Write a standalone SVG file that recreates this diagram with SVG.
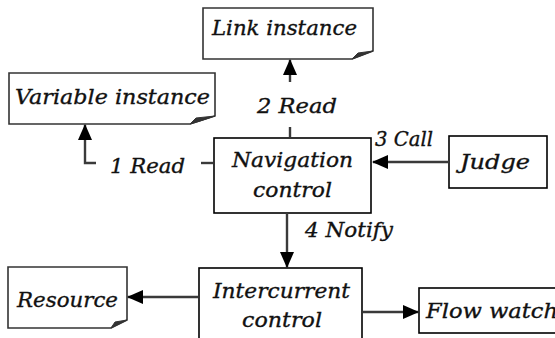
<svg xmlns="http://www.w3.org/2000/svg" width="555" height="338" viewBox="0 0 555 338">
<style>
  .doc { fill: #fff; stroke: #333; stroke-width: 1.6; stroke-linejoin: miter; }
  .box { fill: #fff; stroke: #000; stroke-width: 1.6; }
  .flap { fill: #333; stroke: #333; stroke-width: 1; }
  .t { font-family: "DejaVu Serif", "Liberation Serif", serif; font-style: italic; font-size: 21px; fill: #111; stroke: #111; stroke-width: 0.35; }
  .c { fill: none; stroke: #3a3a3a; stroke-width: 2.4; }
</style>
<defs>
  <marker id="ah" markerUnits="userSpaceOnUse" markerWidth="16" markerHeight="14" viewBox="0 0 16 14" refX="15" refY="7" orient="auto">
    <path d="M0,0 L16,7 L0,14 Z" fill="#000"/>
  </marker>
</defs>
<rect width="555" height="338" fill="#fff"/>

<g id="link-instance">
  <path class="doc" d="M203,8 H373 V51 L352,59 H203 Z"/>
  <path class="flap" d="M352,59 L358,53 L373,51 L360,56 Z"/>
  <text class="t" x="212" y="35" textLength="145" lengthAdjust="spacingAndGlyphs">Link instance</text>
</g>

<g id="variable-instance">
  <path class="doc" d="M9,73 H215 V116 L190,124 H9 Z"/>
  <path class="flap" d="M190,124 L196,118 L215,116 L200,121 Z"/>
  <text class="t" x="15" y="104" textLength="195" lengthAdjust="spacingAndGlyphs">Variable instance</text>
</g>

<g id="navigation-control">
  <rect class="box" x="214" y="138" width="157" height="75"/>
  <text class="t" x="232" y="167" textLength="121" lengthAdjust="spacingAndGlyphs">Navigation</text>
  <text class="t" x="253" y="197" textLength="79" lengthAdjust="spacingAndGlyphs">control</text>
</g>

<g id="judge">
  <rect class="box" x="449" y="136" width="98" height="52"/>
  <text class="t" x="460" y="169" textLength="70" lengthAdjust="spacingAndGlyphs">Judge</text>
</g>

<g id="intercurrent-control">
  <rect class="box" x="199" y="268" width="163" height="80"/>
  <text class="t" x="213" y="298" textLength="137" lengthAdjust="spacingAndGlyphs">Intercurrent</text>
  <text class="t" x="242" y="327" textLength="80" lengthAdjust="spacingAndGlyphs">control</text>
</g>

<g id="resource">
  <path class="doc" d="M8,267 H127 V320 L111,328 H8 Z"/>
  <path class="flap" d="M111,328 L115,322 L127,320 L117,325 Z"/>
  <text class="t" x="17" y="307" textLength="101" lengthAdjust="spacingAndGlyphs">Resource</text>
</g>

<g id="flow-watch">
  <rect class="box" x="419" y="288" width="145" height="45"/>
  <text class="t" x="426" y="318" textLength="132" lengthAdjust="spacingAndGlyphs">Flow watch</text>
</g>

<g id="connectors">
  <path class="c" d="M213,163 H201"/>
  <path class="c" d="M96,163 H85 V125" marker-end="url(#ah)"/>
  <text class="t" x="110" y="173" textLength="75" lengthAdjust="spacingAndGlyphs">1 Read</text>

  <path class="c" d="M290,137 V127"/>
  <path class="c" d="M290,82 V60" marker-end="url(#ah)"/>
  <text class="t" x="257" y="113" textLength="80" lengthAdjust="spacingAndGlyphs">2 Read</text>

  <path class="c" d="M449,162 H373" marker-end="url(#ah)"/>
  <text class="t" x="375" y="146" textLength="58" lengthAdjust="spacingAndGlyphs">3 Call</text>

  <path class="c" d="M287,213 V267" marker-end="url(#ah)"/>
  <text class="t" x="305" y="237" textLength="88" lengthAdjust="spacingAndGlyphs">4 Notify</text>

  <path class="c" d="M198,297 H128" marker-end="url(#ah)"/>
  <path class="c" d="M363,312 H418" marker-end="url(#ah)"/>
</g>
</svg>
